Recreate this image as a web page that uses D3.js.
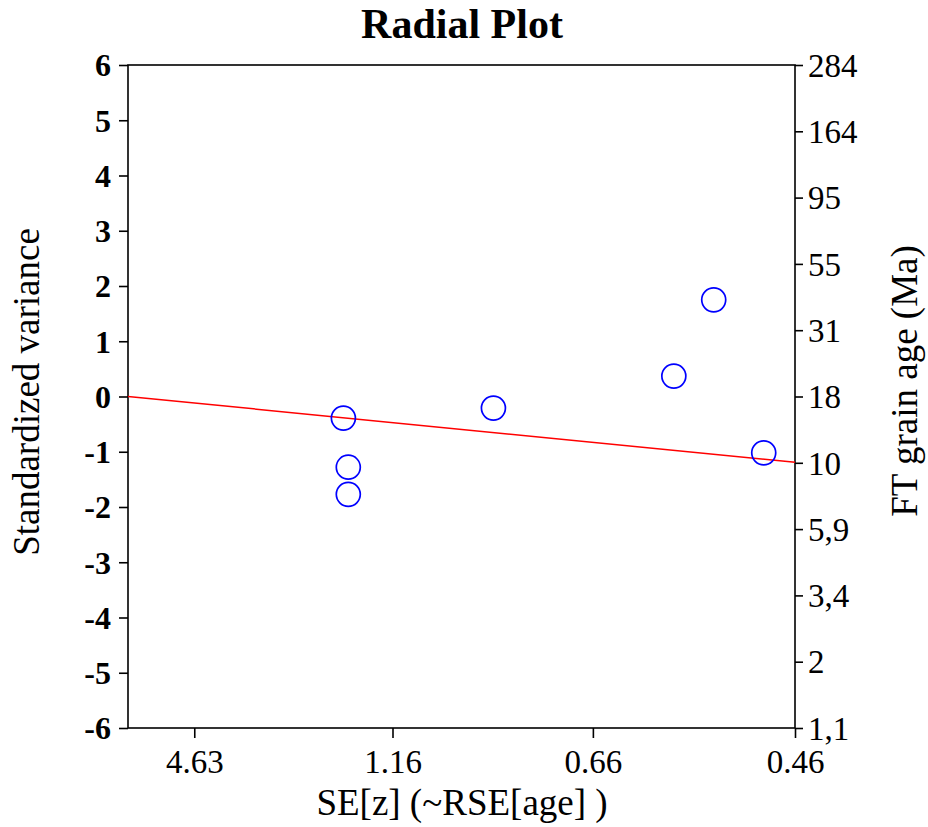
<!DOCTYPE html>
<html>
<head>
<meta charset="utf-8">
<script src="https://cdn.jsdelivr.net/npm/d3@7"></script>
<style>
  body { margin: 0; background: #fff; }
  svg text { font-family: "Liberation Serif", "Times New Roman", serif; fill: #000; }
</style>
</head>
<body>
<div id="chart"></div>
<script>
// precision (1/SE) and standardized estimate of each grain
var precision = [0.702, 0.718, 0.718, 1.191, 1.779, 1.909, 2.072];
var stdEstimate = [-0.39, -1.28, -1.77, -0.21, 0.37, 1.75, -1.02];

// bottom axis: SE labels (tick placed at precision = 1/SE)
var seTicks = [4.63, 1.16, 0.66, 0.46];
// left axis ticks
var yTicks = [6, 5, 4, 3, 2, 1, 0, -1, -2, -3, -4, -5, -6];
// right axis: age labels, evenly spaced from top to bottom
var ageLabels = ["284", "164", "95", "55", "31", "18", "10", "5,9", "3,4", "2", "1,1"];

// central age line: starts at origin, value at right edge
var centralLine = [{x: 0, y: 0}, {x: 1 / 0.46, y: -1.19}];

var W = 928, H = 827;
var margin = {top: 65, right: 133, bottom: 99, left: 128},
    width = W - margin.left - margin.right,
    height = H - margin.top - margin.bottom;

var svg = d3.select("#chart").append("svg")
    .attr("width", W)
    .attr("height", H);

var g = svg.append("g")
    .attr("transform", "translate(" + margin.left + "," + margin.top + ")");

var x = d3.scaleLinear().domain([0, 1 / 0.46]).range([0, width]);
var y = d3.scaleLinear().domain([-6, 6]).range([height, 0]);

// right axis: same vertical range, ticks every 1.2 units
var yAge = d3.scaleLinear().domain([-6, 6]).range([height, 0]);
var ageTickVals = ageLabels.map(function(d, i) { return 6 - i * 1.2; });

// frame
g.append("rect")
    .attr("width", width)
    .attr("height", height)
    .attr("fill", "none")
    .attr("stroke", "#000")
    .attr("stroke-width", 1.6);

// left axis
var yAxis = g.append("g")
    .call(d3.axisLeft(y).tickValues(yTicks).tickSize(9).tickPadding(8)
        .tickFormat(function(d) { return d < 0 ? "-" + Math.abs(d) : d; }));
yAxis.select(".domain").remove();
yAxis.selectAll("line").attr("stroke-width", 1.6);
yAxis.selectAll("text")
    .style("font-size", "32px")
    .style("font-weight", "bold")
    .attr("dy", "0.34em");

// right axis
var rAxis = g.append("g")
    .attr("transform", "translate(" + width + ",0)")
    .call(d3.axisRight(yAge).tickValues(ageTickVals).tickSize(8).tickPadding(5)
        .tickFormat(function(d, i) { return ageLabels[i]; }));
rAxis.select(".domain").remove();
rAxis.selectAll("line").attr("stroke-width", 1.6);
rAxis.selectAll("text")
    .style("font-size", "33px")
    .attr("dy", "0.34em");

// bottom axis
var xAxis = g.append("g")
    .attr("transform", "translate(0," + height + ")")
    .call(d3.axisBottom(x).tickValues(seTicks.map(function(d) { return 1 / d; }))
        .tickSize(10).tickPadding(7)
        .tickFormat(function(d, i) { return seTicks[i].toFixed(2); }));
xAxis.select(".domain").remove();
xAxis.selectAll("line").attr("stroke-width", 1.6);
xAxis.selectAll("text")
    .style("font-size", "33px")
    .attr("dy", "0.85em");

// central line
var line = d3.line()
    .x(function(d) { return x(d.x); })
    .y(function(d) { return y(d.y); });

g.append("path")
    .datum(centralLine)
    .attr("d", line)
    .attr("fill", "none")
    .attr("stroke", "#ff0000")
    .attr("stroke-width", 1.5);

// points
g.selectAll("circle.pt")
    .data(precision)
    .enter().append("circle")
    .attr("class", "pt")
    .attr("cx", function(d) { return x(d); })
    .attr("cy", function(d, i) { return y(stdEstimate[i]); })
    .attr("r", 12)
    .attr("fill", "none")
    .attr("stroke", "#0000ff")
    .attr("stroke-width", 1.7);

// title
svg.append("text")
    .attr("x", 462)
    .attr("y", 38)
    .attr("text-anchor", "middle")
    .style("font-size", "42px")
    .style("font-weight", "bold")
    .text("Radial Plot");

// axis titles
svg.append("text")
    .attr("x", 462)
    .attr("y", 815)
    .attr("text-anchor", "middle")
    .style("font-size", "37px")
    .text("SE[z] (~RSE[age] )");

svg.append("text")
    .attr("transform", "translate(39,392) rotate(-90)")
    .attr("text-anchor", "middle")
    .style("font-size", "37px")
    .text("Standardized variance");

svg.append("text")
    .attr("transform", "translate(917,381) rotate(-90)")
    .attr("text-anchor", "middle")
    .style("font-size", "37px")
    .text("FT grain age (Ma)");
</script>
</body>
</html>
